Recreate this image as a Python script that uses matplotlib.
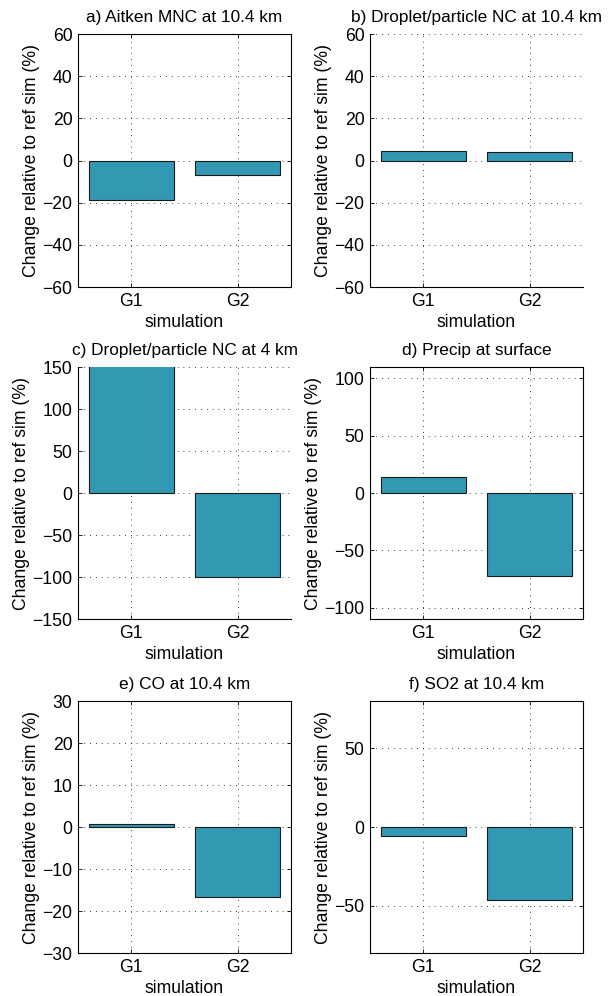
import numpy as np
import matplotlib
matplotlib.use('Agg')
import matplotlib.pyplot as plt

plt.rcParams['font.family'] = ['Liberation Sans', 'DejaVu Sans']
plt.rcParams['font.size'] = 12.7

# data
sims = ['G1', 'G2']
titles = ['a) Aitken MNC at 10.4 km',
          'b) Droplet/particle NC at 10.4 km',
          'c) Droplet/particle NC at 4 km',
          'd) Precip at surface',
          'e) CO at 10.4 km',
          'f) SO2 at 10.4 km']
aitken_10 = [-18.9, -7.1]
drop_10 = [4.6, 4.1]
drop_4 = [165.0, -100.0]
precip = [14.0, -72.4]
co_10 = [0.7, -16.7]
so2_10 = [-5.9, -46.5]
values = [aitken_10, drop_10, drop_4, precip, co_10, so2_10]

ylims = [(-60, 60), (-60, 60), (-150, 150), (-110, 110), (-30, 30), (-80, 80)]
yticks = [np.arange(-60, 61, 20), np.arange(-60, 61, 20), np.arange(-150, 151, 50),
          [-100, -50, 0, 50, 100], np.arange(-30, 31, 10), [-50, 0, 50]]
box_on = [True, False, False, True, True, True]

W, H = 611, 996
lefts = [78, 370]
rows = [(34, 287), (367, 619), (701, 953)]

fig = plt.figure(figsize=(W / 100, H / 100), dpi=100)

for i in range(6):
    r, c = divmod(i, 2)
    top, bot = rows[r]
    l = lefts[c]
    ax = fig.add_axes([l / W, 1 - bot / H, 213 / W, (bot - top) / H])
    x = np.arange(1, len(sims) + 1)
    ax.bar(x, values[i], width=0.8, color='#3399b3', edgecolor='#1a1a1a', linewidth=0.8, zorder=3)
    ax.set_xlim(0.5, 2.5)
    ax.set_ylim(*ylims[i])
    ax.set_yticks(yticks[i])
    ax.set_xticks(x)
    ax.set_xticklabels(sims)
    ax.grid(True, linestyle=(0, (1, 6)), color='k', linewidth=0.6)
    ax.tick_params(direction='in', length=3, width=0.6, labelsize=12.7, pad=4)
    ax.set_title(titles[i], fontsize=12.4, pad=8.5)
    ax.set_xlabel('simulation', fontsize=12.7, labelpad=3)
    ax.set_ylabel('Change relative to ref sim (%)', fontsize=12.7, labelpad=2)
    for s in ax.spines.values():
        s.set_linewidth(0.8)
    if not box_on[i]:
        ax.spines['top'].set_visible(False)
        ax.spines['right'].set_visible(False)
    else:
        ax.tick_params(top=True, right=True)

fig.savefig('out.png', dpi=100)
